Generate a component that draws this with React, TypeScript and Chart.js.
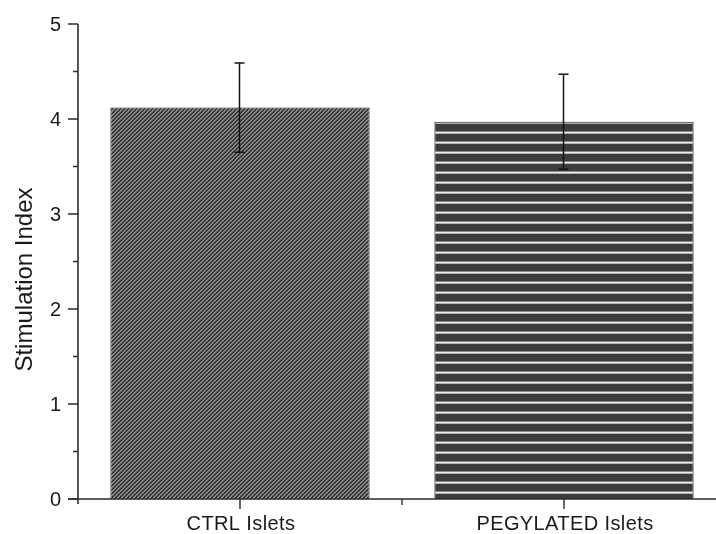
import { useEffect, useRef } from 'react';
import { Chart, registerables } from 'chart.js';

Chart.register(...registerables);

const categories = ['CTRL Islets', 'PEGYLATED Islets'];
const means = [4.12, 3.97];
const errors = [0.47, 0.5];
const yMajorTicks = [0, 1, 2, 3, 4, 5];
const yMinorTicks = [0.5, 1.5, 2.5, 3.5, 4.5];
const xMinorTicks = [0.5];
const yTitle = 'Stimulation Index';

function makeDiagonalPattern(ctx: CanvasRenderingContext2D) {
  const n = 4;
  const c = document.createElement('canvas');
  c.width = n;
  c.height = n;
  const g = c.getContext('2d')!;
  const img = g.createImageData(n, n);
  for (let yy = 0; yy < n; yy++) {
    for (let xx = 0; xx < n; xx++) {
      const k = (xx + yy) % n;
      const v = k < 2 ? 0x32 : 0x8a;
      const i = (yy * n + xx) * 4;
      img.data[i] = v;
      img.data[i + 1] = v;
      img.data[i + 2] = v;
      img.data[i + 3] = 255;
    }
  }
  g.putImageData(img, 0, 0);
  return ctx.createPattern(c, 'repeat')!;
}

function makeHorizontalPattern(ctx: CanvasRenderingContext2D) {
  const h = 10;
  const c = document.createElement('canvas');
  c.width = 1;
  c.height = h;
  const g = c.getContext('2d')!;
  const rows = ['#3c3c3c', '#8a8a8a', '#ececec', '#b0b0b0', '#3c3c3c', '#3c3c3c', '#3c3c3c', '#3c3c3c', '#3c3c3c', '#3c3c3c'];
  rows.forEach((col, i) => {
    g.fillStyle = col;
    g.fillRect(0, i, 1, 1);
  });
  return ctx.createPattern(c, 'repeat')!;
}

const axisColor = '#2b2b2b';
const fontFamily = '"Liberation Sans", Arial, sans-serif';

const decorPlugin = {
  id: 'decor',
  afterDatasetsDraw(chart: any) {
    const { ctx, chartArea: area } = chart;
    const x = chart.scales.x;
    const y = chart.scales.y;
    ctx.save();
    // error bars
    ctx.strokeStyle = '#111';
    ctx.lineWidth = 1.5;
    means.forEach((m, i) => {
      const px = Math.round(x.getPixelForValue(i)) - 0.5;
      const top = y.getPixelForValue(m + errors[i]);
      const bot = y.getPixelForValue(m - errors[i]);
      ctx.beginPath();
      ctx.moveTo(px, top);
      ctx.lineTo(px, bot);
      ctx.moveTo(px - 5, top);
      ctx.lineTo(px + 5, top);
      ctx.moveTo(px - 5, bot);
      ctx.lineTo(px + 5, bot);
      ctx.stroke();
    });

    // axes lines
    ctx.strokeStyle = axisColor;
    ctx.lineWidth = 1.6;
    const y0 = y.getPixelForValue(0);
    const yTop = y.getPixelForValue(5);
    ctx.beginPath();
    ctx.moveTo(area.left, yTop);
    ctx.lineTo(area.left, y0 + 5);
    ctx.moveTo(area.left - 10, y0);
    ctx.lineTo(chart.width, y0);
    ctx.stroke();

    // ticks
    ctx.lineWidth = 1.4;
    ctx.beginPath();
    yMajorTicks.forEach((v) => {
      const py = y.getPixelForValue(v);
      ctx.moveTo(area.left - 10, py);
      ctx.lineTo(area.left, py);
    });
    yMinorTicks.forEach((v) => {
      const py = y.getPixelForValue(v);
      ctx.moveTo(area.left - 5, py);
      ctx.lineTo(area.left, py);
    });
    categories.forEach((_, i) => {
      const px = x.getPixelForValue(i);
      ctx.moveTo(px, y0);
      ctx.lineTo(px, y0 + 10);
    });
    xMinorTicks.forEach((v) => {
      const px = x.getPixelForValue(v);
      ctx.moveTo(px, y0);
      ctx.lineTo(px, y0 + 6);
    });
    ctx.stroke();

    // y tick labels
    ctx.fillStyle = '#1a1a1a';
    ctx.font = `20px ${fontFamily}`;
    ctx.textAlign = 'right';
    ctx.textBaseline = 'middle';
    yMajorTicks.forEach((v) => {
      ctx.fillText(String(v), area.left - 17, y.getPixelForValue(v) + 1);
    });

    // category labels
    ctx.font = `20px ${fontFamily}`;
    ctx.textAlign = 'center';
    ctx.textBaseline = 'alphabetic';
    (ctx as any).letterSpacing = '0.4px';
    categories.forEach((c, i) => {
      ctx.fillText(c, x.getPixelForValue(i) + 1, y0 + 31);
    });
    (ctx as any).letterSpacing = '0px';

    // y title
    ctx.save();
    ctx.translate(32, (area.top + area.bottom) / 2 + 18);
    ctx.rotate(-Math.PI / 2);
    ctx.font = `24px ${fontFamily}`;
    ctx.textAlign = 'center';
    ctx.textBaseline = 'alphabetic';
    ctx.fillText(yTitle, 0, 0);
    ctx.restore();

    ctx.restore();
  },
};

export default function App() {
  const ref = useRef<HTMLCanvasElement | null>(null);
  useEffect(() => {
    const canvas = ref.current!;
    const ctx = canvas.getContext('2d')!;
    const patterns = [makeDiagonalPattern(ctx), makeHorizontalPattern(ctx)];
    const chart = new Chart(canvas, {
      type: 'bar',
      data: {
        labels: categories,
        datasets: [
          {
            data: means,
            backgroundColor: patterns,
            borderColor: '#111',
            borderWidth: 1,
            barPercentage: 0.8,
            categoryPercentage: 1,
          },
        ],
      },
      options: {
        responsive: false,
        animation: false,
        devicePixelRatio: 1,
        events: [],
        layout: { padding: { left: 78, top: 24, right: 14, bottom: 35 } },
        plugins: { legend: { display: false }, tooltip: { enabled: false } },
        scales: {
          x: { display: false, offset: true, grid: { display: false } },
          y: { display: false, min: 0, max: 5, grid: { display: false } },
        },
      },
      plugins: [decorPlugin],
    });
    return () => chart.destroy();
  }, []);
  return (
    <div style={{ position: 'fixed', left: 0, top: 0, width: 716, height: 534, overflow: 'hidden', background: '#fff' }}>
      <canvas ref={ref} width={740} height={534} style={{ display: 'block' }} />
    </div>
  );
}
